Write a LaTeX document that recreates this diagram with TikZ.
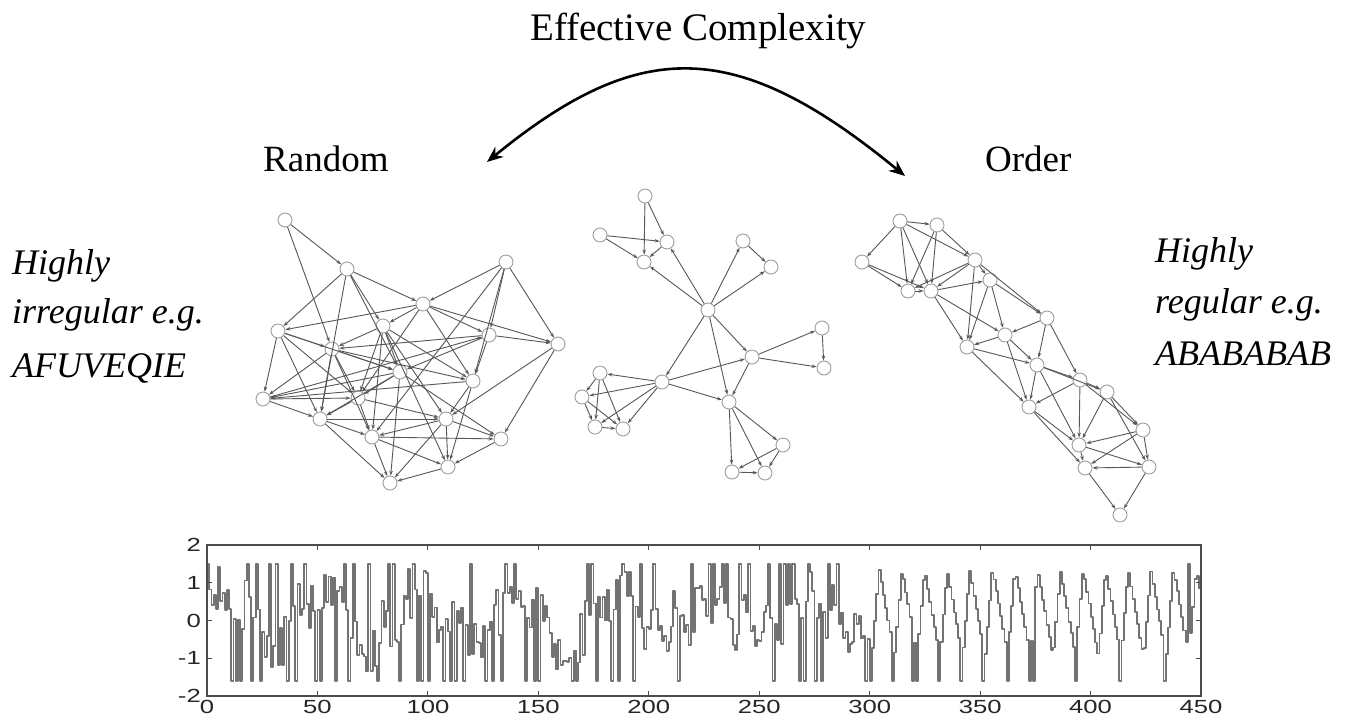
\documentclass[tikz,border=0pt]{standalone}
\usepackage{fontspec}
\setmainfont{Liberation Serif}
\newfontfamily\axisfont{Liberation Sans}
\usetikzlibrary{arrows.meta}
\begin{document}
\begin{tikzpicture}[x=1pt,y=-1pt,
  vtx/.style={circle, draw=black!38, fill=white, line width=0.9pt, minimum size=14pt, inner sep=0pt},
  edg/.style={draw=black!66, line width=0.9pt, -{Stealth[length=5pt,width=3.5pt]}},
  title/.style={anchor=base west, inner sep=0pt, font=\fontsize{39}{39}\selectfont},
  head/.style={anchor=base west, inner sep=0pt, font=\fontsize{37}{37}\selectfont},
  desc/.style={anchor=base west, inner sep=0pt, font=\fontsize{36}{36}\selectfont\itshape},
  ticklab/.style={inner sep=0pt, font=\axisfont\fontsize{19}{19}\selectfont, text=black!85},
  frame/.style={draw=black!70, line width=1.5pt},
  series/.style={draw=black!55, line width=1.8pt, line join=round}
]
\useasboundingbox (0,0) rectangle (1363,721);
\fill[white] (0,0) rectangle (1363,721);

% ---------- texts ----------
\node[title] (ec) at (530,40.7) {Effective Complexity};
\node[head] (rand) at (263,171) {Random};
\node[head] (ord) at (985,171.5) {Order};
\node[desc] (l1) at (12,274) {Highly};
\node[desc] (l2) at (12,323) {irregular e.g.};
\node[desc] (l3) at (12,377) {AFUVEQIE};
\node[desc] (r1t) at (1155,262) {Highly};
\node[desc] (r2t) at (1155,313) {regular e.g.};
\node[desc] (r3t) at (1155,365) {ABABABAB};

% ---------- top arrow ----------
\coordinate (arL) at (487,162);
\coordinate (arR) at (905,176);
\draw[line width=2.6pt, {Stealth[length=16pt,width=13pt]}-{Stealth[length=16pt,width=13pt]}]
  (arL) .. controls (640,37) and (736,37) .. (arR);

% ---------- random network ----------
\foreach \n/\x/\y in {1/285/220,2/347/269,3/506/262,4/423/304,5/278/331,6/383/326,7/489/335,8/558/344,9/332/349,10/400/372,11/473/381,12/263/399,13/358/398,14/320/419,15/446/419,16/372/437,17/501/439,18/448/467,19/390/483}
  \node[vtx] (A\n) at (\x,\y) {};
\foreach \a/\b in {1/2,1/9,2/5,2/14,2/4,2/6,2/10,3/4,3/7,3/8,3/11,3/16,4/5,4/6,4/7,4/11,4/8,4/13,5/9,5/12,5/10,5/14,5/13,6/9,6/10,6/11,6/15,6/18,6/16,7/8,7/10,7/11,7/9,8/17,8/15,9/10,9/12,9/14,9/16,9/13,9/11,10/12,10/13,10/19,10/14,10/17,11/15,11/18,11/12,12/13,12/14,13/16,13/14,13/15,14/19,14/15,14/16,15/16,15/17,15/18,15/19,16/17,16/18,16/19,17/18,18/19,6/13,12/7}
  \draw[edg] (A\a) -- (A\b);

% ---------- middle network ----------
\foreach \n/\x/\y in {a1/645/196,a2/600/235,a3/667/242,a4/644/262,b1/743/241,b2/771/267,c/708/310,d1/822/328,d2/824/368,e/752/357,f/662/382,g1/600/373,g2/582/397,g3/595/427,g4/623/429,h/729/402,i1/783/445,i2/732/472,i3/765/473}
  \node[vtx] (B\n) at (\x,\y) {};
\foreach \a/\b in {a1/a4,a1/a3,a2/a3,a2/a4,a3/a4,c/a3,c/a4,c/b1,c/b2,b1/b2,c/f,c/h,c/e,e/d1,e/d2,d1/d2,f/e,e/h,f/h,f/g1,f/g2,f/g3,f/g4,g1/g2,g1/g3,g1/g4,g2/g3,g2/g4,g3/g4,h/i1,h/i2,h/i3,i1/i2,i1/i3,i2/i3}
  \draw[edg] (B\a) -- (B\b);

% ---------- ordered network ----------
\foreach \n/\x/\y in {1/900/221,2/937/225,3/862/262,4/975/260,5/908/291,6/931/291,7/990/280,8/1047/318,9/1005/335,10/967/347,11/1037/365,12/1080/380,13/1107/392,14/1029/407,15/1143/430,16/1079/445,17/1149/467,18/1085/468,19/1120/515}
  \node[vtx] (C\n) at (\x,\y) {};
\foreach \a/\b in {1/2,1/3,1/5,1/6,1/4,2/4,2/5,2/6,3/5,3/6,4/5,4/6,4/7,4/10,5/6,6/7,6/9,6/10,7/8,7/9,7/10,4/8,8/9,8/11,8/12,9/10,9/11,9/14,10/11,10/14,11/12,11/14,11/16,12/13,12/14,12/16,12/15,13/15,13/16,13/17,14/16,14/18,15/16,15/17,15/18,16/17,16/18,17/18,18/19,17/19,11/13}
  \draw[edg] (C\a) -- (C\b);

% ---------- time series ----------
\coordinate (pNW) at (207,545);
\coordinate (pSE) at (1201,696);
\pgfmathsetseed{5}
\gdef\tslastk{0}
\gdef\tslist{(207,590) }
\foreach \i in {0,...,449}{
  \pgfmathsetmacro\tsw{\i<190 ? 0.08 : (\i<300 ? 0.55 : 0.97)}
  \pgfmathsetmacro\tsm{mod(\i/10.25 + 0.35, 1)}
  \pgfmathsetmacro\tst{\tsm<0.68 ? 1.4 - 2.4*\tsm/0.68 : -1.0 + 2.4*(\tsm-0.68)/0.32}
  \pgfmathsetmacro\tsa{2*mod(\i,2)-1}
  \pgfmathsetmacro\tsn{0.8*sin(\i*8.2+20) + 0.3*sin(\i*19+70) + 0.45*rand + 0.6*\tsa*rnd}
  \pgfmathsetmacro\tsb{\tsw*\tst + (1-\tsw)*\tsn}
  \pgfmathsetmacro\tsp{\i<300 ? 0.36 : ((\tsm>0.58)*(\tsm<0.7) ? 0.75 : 0.01)}
  \pgfmathsetmacro\tsk{(rnd<\tsp)*(1-\tslastk)}
  \pgfmathsetmacro\tsup{\tsw>0.9 ? 0.05 : 0.45}
  \pgfmathsetmacro\tsv{\tsk>0.5 ? (rnd<\tsup ? 1.5 : -1.6) : max(-1.6,min(1.45,\tsb))}
  \pgfmathsetmacro\tsx{207+2.209*\i}
  \pgfmathsetmacro\tsy{620.5-37.75*\tsv}
  \xdef\tslist{\tslist (\tsx,\tsy) }
  \xdef\tslastk{\tsk}
}
\edef\tsdraw{\noexpand\draw[series] plot[const plot] coordinates {\tslist};}
\tsdraw
% frame and ticks
\draw[frame] (pNW) rectangle (pSE);
\foreach \t in {50,100,...,400}{
  \draw[frame, line width=1pt] ({207+2.209*\t},545) -- ++(0,5);
  \draw[frame, line width=1pt] ({207+2.209*\t},696) -- ++(0,-5);
}
\foreach \v in {-1,0,1}{
  \draw[frame, line width=1pt] (207,{620.5-37.75*\v}) -- ++(5,0);
  \draw[frame, line width=1pt] (1201,{620.5-37.75*\v}) -- ++(-5,0);
}
\foreach \v/\lab in {2/2,1/1,0/0,-1/-1,-2/-2}
  \node[ticklab, anchor=east] (yl\lab) at (201,{620.5-37.75*\v}) {\scalebox{1.35}[1]{\lab}};
\foreach \t in {0,50,...,450}
  \node[ticklab, anchor=north] (xl\t) at ({207+2.209*\t},700) {\scalebox{1.35}[1]{\t}};
\end{tikzpicture}
\end{document}
